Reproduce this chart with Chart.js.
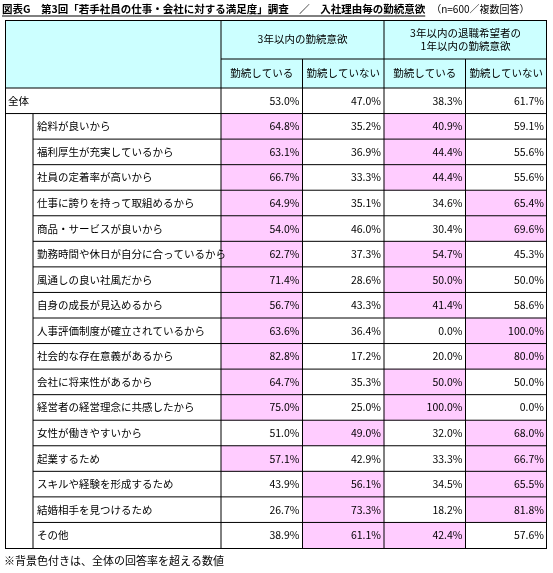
<!DOCTYPE html>
<html><head><meta charset="utf-8">
<script src="https://cdn.jsdelivr.net/npm/chart.js@4"></script>
<style>body{margin:0;background:#fff}canvas{display:block}</style>
</head><body>
<canvas id="tbl" width="553" height="573"></canvas>
<script>
const rowLabels = ['全体', '給料が良いから', '福利厚生が充実しているから', '社員の定着率が高いから', '仕事に誇りを持って取組めるから',
  '商品・サービスが良いから', '勤務時間や休日が自分に合っているから', '風通しの良い社風だから', '自身の成長が見込めるから',
  '人事評価制度が確立されているから', '社会的な存在意義があるから', '会社に将来性があるから', '経営者の経営理念に共感したから',
  '女性が働きやすいから', '起業するため', 'スキルや経験を形成するため', '結婚相手を見つけるため', 'その他'];
const stay3 = [53.0, 64.8, 63.1, 66.7, 64.9, 54.0, 62.7, 71.4, 56.7, 63.6, 82.8, 64.7, 75.0, 51.0, 57.1, 43.9, 26.7, 38.9];
const leave3 = [47.0, 35.2, 36.9, 33.3, 35.1, 46.0, 37.3, 28.6, 43.3, 36.4, 17.2, 35.3, 25.0, 49.0, 42.9, 56.1, 73.3, 61.1];
const stay1 = [38.3, 40.9, 44.4, 44.4, 34.6, 30.4, 54.7, 50.0, 41.4, 0.0, 20.0, 50.0, 100.0, 32.0, 33.3, 34.5, 18.2, 42.4];
const leave1 = [61.7, 59.1, 55.6, 55.6, 65.4, 69.6, 45.3, 50.0, 58.6, 100.0, 80.0, 50.0, 0.0, 68.0, 66.7, 65.5, 81.8, 57.6];
const groupHeaders = ['3年以内の勤続意欲', ['3年以内の退職希望者の', '1年以内の勤続意欲']];
const subHeaders = ['勤続している', '勤続していない', '勤続している', '勤続していない'];
const title = '図表G　第3回「若手社員の仕事・会社に対する満足度」調査　／　入社理由毎の勤続意欲';
const note = '（n=600／複数回答）';
const footnote = '※背景色付きは、全体の回答率を超える数値';

const columns = [stay3, leave3, stay1, leave1];
const PINK = '#ffccff', CYAN = '#ccffff';
const FONT = '"Noto Sans CJK JP", sans-serif';

// 全体を超える値のセルだけ色付きの棒にする
const datasets = columns.map((col, c) => ({
  data: col.map((v, i) => (i > 0 && v > col[0]) ? [c, c + 1] : null),
  backgroundColor: PINK,
  barPercentage: 1,
  categoryPercentage: 1,
  grouped: false,
  borderWidth: 0,
}));

const tablePlugin = {
  id: 'table',
  afterDatasetsDraw(chart) {
    const { ctx, scales: { x, y }, chartArea: a } = chart;
    const half = (y.getPixelForValue(1) - y.getPixelForValue(0)) / 2;
    const tableLeft = 5, indent = 28;
    const top = 20, mid = 59;
    ctx.save();
    ctx.fillStyle = CYAN;
    ctx.fillRect(tableLeft, top, a.right - tableLeft, a.top - top);
    ctx.strokeStyle = '#000';
    ctx.lineWidth = 1;
    const line = (x1, y1, x2, y2) => { ctx.beginPath(); ctx.moveTo(x1, y1); ctx.lineTo(x2, y2); ctx.stroke(); };
    ctx.strokeRect(tableLeft + 0.5, top + 0.5, a.right - tableLeft - 1, a.bottom - top);
    line(x.getPixelForValue(0), top, x.getPixelForValue(0), a.bottom);
    line(x.getPixelForValue(2), top, x.getPixelForValue(2), a.bottom);
    [1, 3].forEach(v => line(x.getPixelForValue(v), mid, x.getPixelForValue(v), a.bottom));
    line(x.getPixelForValue(0), mid, a.right, mid);
    line(tableLeft, a.top, a.right, a.top);
    rowLabels.forEach((lab, i) => {
      const yb = y.getPixelForValue(i) + half;
      if (i < rowLabels.length - 1) line(i === 0 ? tableLeft : tableLeft + indent, yb, a.right, yb);
    });
    line(tableLeft + indent, y.getPixelForValue(1) - half, tableLeft + indent, a.bottom);
    // header text
    ctx.fillStyle = '#000';
    ctx.font = '10.5px ' + FONT;
    ctx.textAlign = 'center';
    ctx.textBaseline = 'middle';
    groupHeaders.forEach((h, g) => {
      const cx = (x.getPixelForValue(g * 2) + x.getPixelForValue(g * 2 + 2)) / 2;
      const lines = Array.isArray(h) ? h : [h];
      lines.forEach((t, k) => ctx.fillText(t, cx, (top + mid) / 2 + (k - (lines.length - 1) / 2) * 13));
    });
    subHeaders.forEach((h, c) => ctx.fillText(h, x.getPixelForValue(c + 0.5), (mid + a.top) / 2));
    // body text
    rowLabels.forEach((lab, i) => {
      const cy = y.getPixelForValue(i);
      ctx.textAlign = 'left';
      ctx.fillText(lab, i === 0 ? tableLeft + 3 : tableLeft + indent + 4, cy);
      ctx.textAlign = 'right';
      columns.forEach((col, c) => ctx.fillText(col[i].toFixed(1) + '%', x.getPixelForValue(c + 1) - 3, cy));
    });
    ctx.textAlign = 'left';
    ctx.font = 'bold 10.5px ' + FONT;
    ctx.fillText(title, 2, 9);
    const tw = ctx.measureText(title).width;
    line(2, 16, 2 + tw, 16);
    ctx.font = '10px ' + FONT;
    ctx.fillText(note, 2 + tw + 6, 9);
    ctx.font = '11px ' + FONT;
    ctx.fillText(footnote, 4, 561);
    ctx.restore();
  }
};

new Chart(document.getElementById('tbl'), {
  type: 'bar',
  data: { labels: rowLabels, datasets },
  options: {
    indexAxis: 'y',
    responsive: false,
    animation: false,
    layout: { padding: { left: 221, right: 6, top: 88, bottom: 25 } },
    scales: {
      x: { type: 'linear', min: 0, max: 4, display: false },
      y: { type: 'category', display: false },
    },
    plugins: { legend: { display: false }, tooltip: { enabled: false } },
  },
  plugins: [tablePlugin],
});
</script>
</body></html>
